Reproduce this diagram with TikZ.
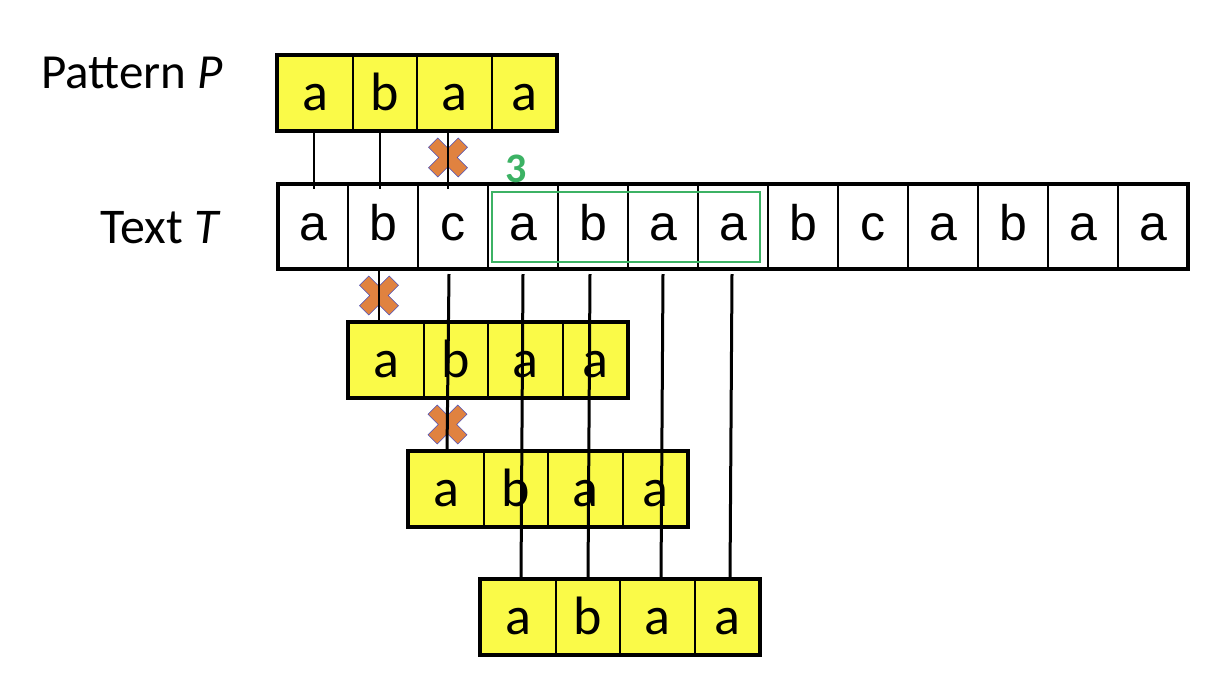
\documentclass[tikz,border=0pt]{standalone}
\usepackage{fontspec}
\setmainfont{Carlito}
\newfontfamily\arialfont{Liberation Sans}
\usetikzlibrary{calc}
\definecolor{cellyellow}{RGB}{250,250,72}
\definecolor{crossorange}{RGB}{224,130,64}
\definecolor{shiftgreen}{RGB}{60,178,100}
\tikzset{
  pcell/.style={draw, line width=1.2pt, fill=cellyellow, minimum height=76pt,
    inner sep=0pt, outer sep=0pt, text height=35pt, text depth=0pt,
    font=\fontsize{54}{60}\selectfont},
  tcell/.style={draw, line width=1.4pt, fill=white, minimum width=70pt,
    minimum height=85pt, inner sep=0pt, outer sep=0pt, text height=27pt,
    text depth=0pt, font=\arialfont\fontsize{50}{60}\selectfont},
  frame/.style={line width=3.5pt},
  thin link/.style={line width=1.2pt},
  thick link/.style={line width=3pt},
  mismatch/.pic={
    \filldraw[fill=crossorange, draw=gray!60!blue, line width=0.6pt, rotate=45]
      (6.5,6.5) -- (6.5,21) -- (-6.5,21) -- (-6.5,6.5) -- (-21,6.5) -- (-21,-6.5)
      -- (-6.5,-6.5) -- (-6.5,-21) -- (6.5,-21) -- (6.5,-6.5) -- (21,-6.5)
      -- (21,6.5) -- cycle;
  }
}
\begin{document}
\begin{tikzpicture}[x=1pt, y=-1pt]
  \useasboundingbox (0,0) rectangle (1207,678);
  % labels
  \node[anchor=base east, inner sep=0pt, font=\fontsize{49}{58}\selectfont] (patlabel) at (223,88) {Pattern \textit{P}};
  \node[anchor=base east, inner sep=0pt, font=\fontsize{50}{58}\selectfont] (textlabel) at (221,243) {Text \textit{T}};
  % text T
  \foreach \ch [count=\i] in {a,b,c,a,b,a,a,b,c,a,b,a,a}
    \node[tcell, anchor=north west] (t\i) at ({278+70*(\i-1)}, 184) {\ch};
  \draw[frame] (t1.north west) rectangle (t13.south east);
  % pattern P and its shifts
  \foreach \row/\x/\y in {p/277/55, q/348/322, r/408/451, s/480/579} {
    \foreach \i/\off/\w/\ch in {1/0/76/a, 2/76/64/b, 3/140/75/a, 4/215/65/a}
      \node[pcell, minimum width=\w pt, anchor=north west] (\row\i) at (\x+\off, \y) {\ch};
    \draw[frame] (\row1.north west) rectangle (\row4.south east);
  }
  % match window
  \draw[shiftgreen, line width=1.5pt] ([shift={(4pt,-8pt)}]t4.north west) rectangle ([shift={(-8pt,7pt)}]t7.south east);
  \node[text=shiftgreen, inner sep=0pt, font=\bfseries\fontsize{42}{48}\selectfont] (shiftlabel) at (516,169) {3};
  % mismatches
  \pic at ($([xshift=-5pt]t3.north |- p1.south)!0.5!([xshift=-5pt]t3.north)$) {mismatch};
  \pic at ($([xshift=-4pt]t2.south)!0.5!([xshift=-4pt]t2.south |- q1.north)$) {mismatch};
  \pic at ($([xshift=-4pt]t3.south |- q1.south)!0.5!(r1.north)$) {mismatch};
  % comparisons
  \foreach \i/\dx in {1/1, 2/-3, 3/-5}
    \draw[thin link] ([xshift=\dx pt]t\i.north |- p1.south) -- ([xshift=\dx pt, yshift=-5pt]t\i.north);
  \draw[thin link] ([xshift=-4pt]t2.south) -- ([xshift=-4pt]t2.south |- q1.north);
  \foreach \i/\j/\dx in {3/r1/-4, 4/s1/0, 5/s2/-3, 6/s3/0, 7/s4/-1}
    \draw[thick link] ([xshift=\dx pt, yshift=-5pt]t\i.south) -- ([xshift={\dx pt-2pt}]t\i.south |- \j.north);
\end{tikzpicture}
\end{document}
